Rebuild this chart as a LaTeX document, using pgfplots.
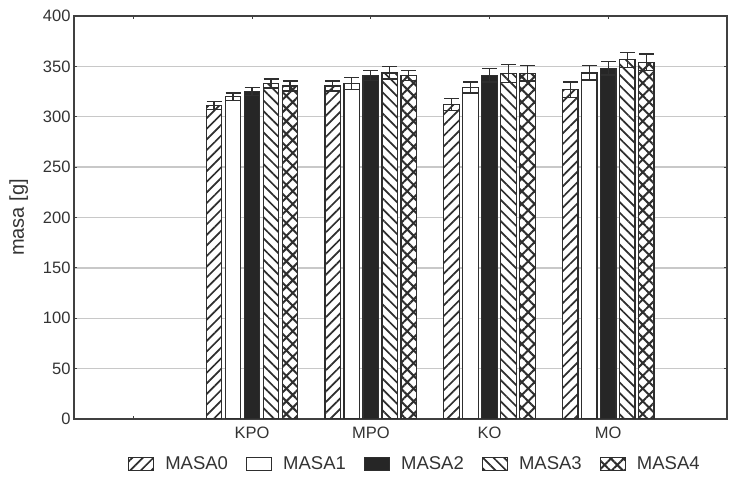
\documentclass[border=0pt]{standalone}
\usepackage{pgfplots}
\pgfplotsset{compat=1.18}
\usepackage{fontspec}
\setmainfont{Liberation Sans}
\usetikzlibrary{patterns.meta}
\definecolor{txt}{HTML}{333333}
\definecolor{axl}{HTML}{404040}
\definecolor{grd}{HTML}{C8C8C8}
\definecolor{edge}{HTML}{2E2E2E}
\definecolor{dark}{HTML}{262626}
\begin{document}
\begin{tikzpicture}
\pgfplotsset{
  barleg/.style={legend image code/.code={\draw[##1,line width=1.2pt,draw=edge] (0pt,-6.75pt) rectangle (25pt,6.75pt);}},
}
\begin{axis}[
  name=ax,
  scale only axis,
  width=653pt, height=403pt,
  xmin=-0.5, xmax=5,
  ymin=0, ymax=400,
  ytick={0,50,...,400},
  xtick={0,1,2,3,4,5},
  xticklabels={,KPO,MPO,KO,MO,},
  tick align=inside,
  major tick length=3pt,
  tick style={axl, line width=0.8pt},
  axis line style={axl, line width=1.3pt},
  ymajorgrids,
  grid style={grd, line width=1.4pt},
  tick label style={font=\fontsize{16.5}{18}\selectfont, text=txt},
  /pgf/number format/assume math mode=true,
  xticklabel style={yshift=-4pt},
  ylabel={masa [g]},
  ylabel style={font=\fontsize{20}{22}\selectfont, text=txt, yshift=8pt},
  legend columns=5,
  legend style={at={(0.522,-0.1117)}, anchor=center, draw=none, fill=none,
    font=\fontsize{18.5}{20}\selectfont, text=txt,
    /tikz/every odd column/.append style={column sep=9pt},
    /tikz/every even column/.append style={column sep=16pt}},
  legend cell align=left,
  error bars/error bar style={line width=1.2pt, edge},
  error bars/error mark options={rotate=90, mark size=7.5pt, line width=1.2pt, edge},
]
\addplot[ybar, barleg, bar width=0.13, bar shift=0, draw=edge, line width=1.3pt,
  preaction={fill=white}, pattern={Lines[angle=45,distance=7.5pt,line width=1.7pt]}, pattern color=edge,
  error bars/.cd, y dir=both, y explicit]
  coordinates {(0.68,311.5) +- (0,4) (1.68,330.5) +- (0,5) (2.68,312.5) +- (0,6) (3.68,327) +- (0,7.5)};
\addlegendentry{MASA0}
\addplot[ybar, barleg, bar width=0.13, bar shift=0, draw=edge, line width=1.3pt, fill=white,
  error bars/.cd, y dir=both, y explicit]
  coordinates {(0.84,320) +- (0,3.5) (1.84,333) +- (0,6) (2.84,329) +- (0,5.5) (3.84,343.5) +- (0,7)};
\addlegendentry{MASA1}
\addplot[ybar, barleg, bar width=0.13, bar shift=0, draw=edge, line width=1.3pt, fill=dark,
  error bars/.cd, y dir=both, y explicit]
  coordinates {(1,325) +- (0,4) (2,341) +- (0,5) (3,341) +- (0,6.5) (4,348) +- (0,6.5)};
\addlegendentry{MASA2}
\addplot[ybar, barleg, bar width=0.13, bar shift=0, draw=edge, line width=1.3pt,
  preaction={fill=white}, pattern={Lines[angle=-45,distance=7.5pt,line width=1.7pt]}, pattern color=edge,
  error bars/.cd, y dir=both, y explicit]
  coordinates {(1.16,333) +- (0,4.5) (2.16,343.5) +- (0,6) (3.16,343) +- (0,9) (4.16,356.5) +- (0,7.5)};
\addlegendentry{MASA3}
\addplot[ybar, barleg, bar width=0.13, bar shift=0, draw=edge, line width=1.3pt,
  preaction={fill=white}, pattern={Hatch[angle=45,distance=9pt,line width=2pt]}, pattern color=edge,
  error bars/.cd, y dir=both, y explicit]
  coordinates {(1.32,330.5) +- (0,5) (2.32,341) +- (0,5) (3.32,343) +- (0,7.5) (4.32,354) +- (0,8.3)};
\addlegendentry{MASA4}
\end{axis}
\path (ax.south west) ++(-74pt,-65pt) coordinate (bl);
\path (ax.south west) ++(663pt,419pt) coordinate (tr);
\path (bl) rectangle (tr);
\end{tikzpicture}
\end{document}
